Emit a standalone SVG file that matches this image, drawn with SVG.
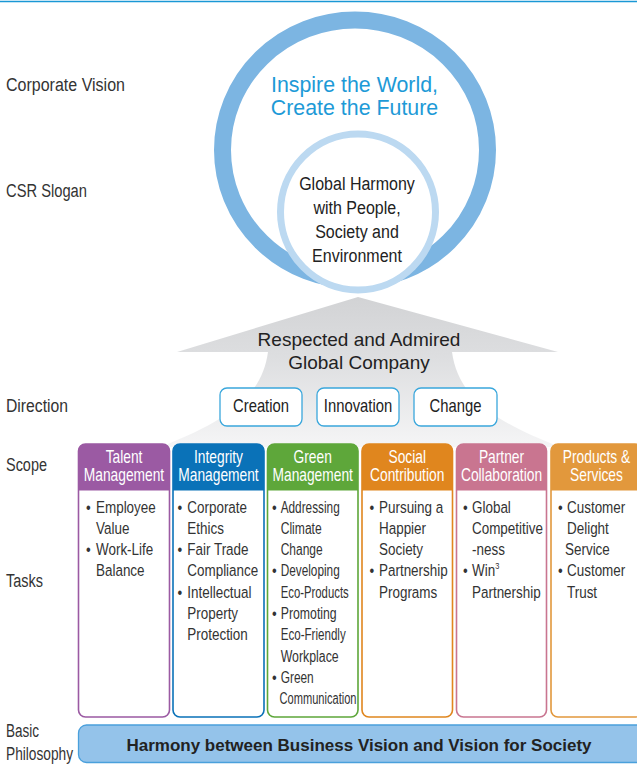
<svg xmlns="http://www.w3.org/2000/svg" width="637" height="768" viewBox="0 0 637 768">
<style>
.f{font-family:"Liberation Sans",Arial,sans-serif}
.lbl{font-size:18px;fill:#333}
.hd{font-size:17.5px;fill:#fff;text-anchor:middle}
.tx{font-size:17.3px;fill:#333}
.dir{font-size:18.5px;fill:#222;text-anchor:middle}
.dbox{fill:#fff;stroke:#3aa7dc;stroke-width:1.3}
.box{fill:#fff;stroke-width:1.6}
</style>
<defs>
<linearGradient id="ag" x1="0" y1="297" x2="0" y2="447" gradientUnits="userSpaceOnUse">
<stop offset="0" stop-color="#d2d3d5"/>
<stop offset="0.4" stop-color="#dddee0"/>
<stop offset="1" stop-color="#f5f5f6"/>
</linearGradient>
</defs>
<line x1="0" y1="1.5" x2="637" y2="1.5" stroke="#1a98d5" stroke-width="1.5"/>

<g id="labels" class="f lbl">
<text x="6" y="91" textLength="119" lengthAdjust="spacingAndGlyphs">Corporate Vision</text>
<text x="6" y="197" textLength="81" lengthAdjust="spacingAndGlyphs">CSR Slogan</text>
<text x="6" y="412" textLength="62" lengthAdjust="spacingAndGlyphs">Direction</text>
<text x="6" y="471" textLength="41" lengthAdjust="spacingAndGlyphs">Scope</text>
<text x="6" y="587" textLength="37" lengthAdjust="spacingAndGlyphs">Tasks</text>
<text x="6" y="737" textLength="33" lengthAdjust="spacingAndGlyphs">Basic</text>
<text x="6" y="760" textLength="67" lengthAdjust="spacingAndGlyphs">Philosophy</text>
</g>

<g id="arrow">
<path d="M358 297 L558 352 L452 352 C458 395 490 420 560 447 L160 447 C230 420 262 395 268 352 L177 352 Z" fill="url(#ag)"/>
<text class="f" x="359" y="346" font-size="19" fill="#222" text-anchor="middle">Respected and Admired</text>
<text class="f" x="359" y="369" font-size="19" fill="#222" text-anchor="middle">Global Company</text>
</g>

<g id="vision">
<ellipse cx="355" cy="150" rx="132.5" ry="130" fill="#fff" stroke="#7cb5e2" stroke-width="17"/>
<text class="f" transform="matrix(.95 0 0 1 354.5 92)" font-size="22.5" fill="#1d9ad7" text-anchor="middle">Inspire the World,</text>
<text class="f" transform="matrix(.95 0 0 1 354.5 115)" font-size="22.5" fill="#1d9ad7" text-anchor="middle">Create the Future</text>
</g>

<g id="slogan">
<ellipse cx="358" cy="212" rx="77.5" ry="78" fill="#fff" stroke="#bcd9f1" stroke-width="7"/>
<g class="f" font-size="19" fill="#222" text-anchor="middle">
<text transform="matrix(.843 0 0 1 357 190)">Global Harmony</text>
<text transform="matrix(.843 0 0 1 357 214)">with People,</text>
<text transform="matrix(.843 0 0 1 357 238)">Society and</text>
<text transform="matrix(.843 0 0 1 357 262)">Environment</text>
</g>
</g>

<g id="creation"><rect class="dbox" x="220" y="388" width="82" height="38" rx="7"/><text class="f dir" transform="matrix(.8 0 0 1 261 412)">Creation</text></g>
<g id="innovation"><rect class="dbox" x="317" y="388" width="82" height="38" rx="7"/><text class="f dir" transform="matrix(.8 0 0 1 358 412)">Innovation</text></g>
<g id="change"><rect class="dbox" x="414" y="388" width="83" height="38" rx="7"/><text class="f dir" transform="matrix(.8 0 0 1 455.5 412)">Change</text></g>

<g id="talent">
<rect class="box" x="78.5" y="444" width="91" height="273" rx="7" stroke="#9b5aa3"/>
<path d="M78.5 490.5 V451 Q78.5 444 85.5 444 H162.5 Q169.5 444 169.5 451 V490.5 Z" fill="#9b5aa3"/>
<text class="f hd" transform="matrix(.787 0 0 1 124 463)">Talent</text>
<text class="f hd" transform="matrix(.787 0 0 1 124 481)">Management</text>
<g class="f tx">
<text transform="matrix(.777 0 0 1 86 512.5)">•</text><text transform="matrix(.777 0 0 1 96 512.5)">Employee</text>
<text transform="matrix(.777 0 0 1 96 533.8)">Value</text>
<text transform="matrix(.777 0 0 1 86 555.1)">•</text><text transform="matrix(.777 0 0 1 96 555.1)">Work-Life</text>
<text transform="matrix(.777 0 0 1 96 576.4)">Balance</text>
</g>
</g>

<g id="integrity">
<rect class="box" x="173" y="444" width="91" height="273" rx="7" stroke="#0a72b8"/>
<path d="M173 490.5 V451 Q173 444 180 444 H257 Q264 444 264 451 V490.5 Z" fill="#0a72b8"/>
<text class="f hd" transform="matrix(.787 0 0 1 218.5 463)">Integrity</text>
<text class="f hd" transform="matrix(.787 0 0 1 218.5 481)">Management</text>
<g class="f tx">
<text transform="matrix(.777 0 0 1 177.5 512.5)">•</text><text transform="matrix(.777 0 0 1 187.3 512.5)">Corporate</text>
<text transform="matrix(.777 0 0 1 187.3 533.8)">Ethics</text>
<text transform="matrix(.777 0 0 1 177.5 555.1)">•</text><text transform="matrix(.777 0 0 1 187.3 555.1)">Fair Trade</text>
<text transform="matrix(.777 0 0 1 187.3 576.4)">Compliance</text>
<text transform="matrix(.777 0 0 1 177.5 597.7)">•</text><text transform="matrix(.777 0 0 1 187.3 597.7)">Intellectual</text>
<text transform="matrix(.777 0 0 1 187.3 619)">Property</text>
<text transform="matrix(.777 0 0 1 187.3 640.3)">Protection</text>
</g>
</g>

<g id="green">
<rect class="box" x="267.5" y="444" width="90.5" height="273" rx="7" stroke="#5ea73a"/>
<path d="M267.5 490.5 V451 Q267.5 444 274.5 444 H351 Q358 444 358 451 V490.5 Z" fill="#5ea73a"/>
<text class="f hd" transform="matrix(.787 0 0 1 312.7 463)">Green</text>
<text class="f hd" transform="matrix(.787 0 0 1 312.7 481)">Management</text>
<g class="f tx">
<text transform="matrix(.777 0 0 1 272 512.5)">•</text><text x="280.7" y="512.5" textLength="59" lengthAdjust="spacingAndGlyphs">Addressing</text>
<text x="280.7" y="533.8" textLength="41" lengthAdjust="spacingAndGlyphs">Climate</text>
<text x="280.7" y="555.1" textLength="42" lengthAdjust="spacingAndGlyphs">Change</text>
<text transform="matrix(.777 0 0 1 272 576.4)">•</text><text x="280.7" y="576.4" textLength="59" lengthAdjust="spacingAndGlyphs">Developing</text>
<text x="280.7" y="597.7" textLength="68" lengthAdjust="spacingAndGlyphs">Eco-Products</text>
<text transform="matrix(.777 0 0 1 272 619)">•</text><text x="280.7" y="619" textLength="56" lengthAdjust="spacingAndGlyphs">Promoting</text>
<text x="280.7" y="640.3" textLength="65" lengthAdjust="spacingAndGlyphs">Eco-Friendly</text>
<text x="280.7" y="661.6" textLength="58" lengthAdjust="spacingAndGlyphs">Workplace</text>
<text transform="matrix(.777 0 0 1 272 682.9)">•</text><text x="280.7" y="682.9" textLength="33" lengthAdjust="spacingAndGlyphs">Green</text>
<text x="279.5" y="703.5" textLength="77" lengthAdjust="spacingAndGlyphs">Communication</text>
</g>
</g>

<g id="social">
<rect class="box" x="362" y="444" width="90.5" height="273" rx="7" stroke="#e0861e"/>
<path d="M362 490.5 V451 Q362 444 369 444 H445.5 Q452.5 444 452.5 451 V490.5 Z" fill="#e0861e"/>
<text class="f hd" transform="matrix(.787 0 0 1 407.2 463)">Social</text>
<text class="f hd" transform="matrix(.787 0 0 1 407.2 481)">Contribution</text>
<g class="f tx">
<text transform="matrix(.777 0 0 1 369.5 512.5)">•</text><text transform="matrix(.777 0 0 1 379 512.5)">Pursuing a</text>
<text transform="matrix(.777 0 0 1 379 533.8)">Happier</text>
<text transform="matrix(.777 0 0 1 379 555.1)">Society</text>
<text transform="matrix(.777 0 0 1 369.5 576.4)">•</text><text transform="matrix(.777 0 0 1 379 576.4)">Partnership</text>
<text transform="matrix(.777 0 0 1 379 597.7)">Programs</text>
</g>
</g>

<g id="partner">
<rect class="box" x="456.5" y="444" width="90" height="273" rx="7" stroke="#c97590"/>
<path d="M456.5 490.5 V451 Q456.5 444 463.5 444 H539.5 Q546.5 444 546.5 451 V490.5 Z" fill="#c97590"/>
<text class="f hd" transform="matrix(.787 0 0 1 501.5 463)">Partner</text>
<text class="f hd" transform="matrix(.787 0 0 1 501.5 481)">Collaboration</text>
<g class="f tx">
<text transform="matrix(.777 0 0 1 463 512.5)">•</text><text transform="matrix(.777 0 0 1 472 512.5)">Global</text>
<text transform="matrix(.777 0 0 1 472 533.8)">Competitive</text>
<text transform="matrix(.777 0 0 1 472 555.1)">-ness</text>
<text transform="matrix(.777 0 0 1 463 576.4)">•</text><text transform="matrix(.777 0 0 1 472 576.4)">Win<tspan font-size="9.5" dy="-7">3</tspan></text>
<text transform="matrix(.777 0 0 1 472 597.7)">Partnership</text>
</g>
</g>

<g id="products">
<rect class="box" x="551" y="444" width="91" height="273" rx="7" stroke="#e2983c"/>
<path d="M551 490.5 V451 Q551 444 558 444 H635 Q642 444 642 451 V490.5 Z" fill="#e2983c"/>
<text class="f hd" transform="matrix(.787 0 0 1 596.5 463)">Products &amp;</text>
<text class="f hd" transform="matrix(.787 0 0 1 596.5 481)">Services</text>
<g class="f tx">
<text transform="matrix(.777 0 0 1 558 512.5)">•</text><text transform="matrix(.777 0 0 1 567 512.5)">Customer</text>
<text transform="matrix(.777 0 0 1 567 533.8)">Delight</text>
<text transform="matrix(.777 0 0 1 565 555.1)">Service</text>
<text transform="matrix(.777 0 0 1 558 576.4)">•</text><text transform="matrix(.777 0 0 1 567 576.4)">Customer</text>
<text transform="matrix(.777 0 0 1 567 597.7)">Trust</text>
</g>
</g>

<g id="philosophy">
<rect x="78.5" y="725" width="575" height="37.5" rx="8" fill="#94c3ea" stroke="#4aa0dc" stroke-width="1.3"/>
<text class="f" x="359" y="751" font-size="17" font-weight="bold" fill="#222" text-anchor="middle">Harmony between Business Vision and Vision for Society</text>
</g>
</svg>
